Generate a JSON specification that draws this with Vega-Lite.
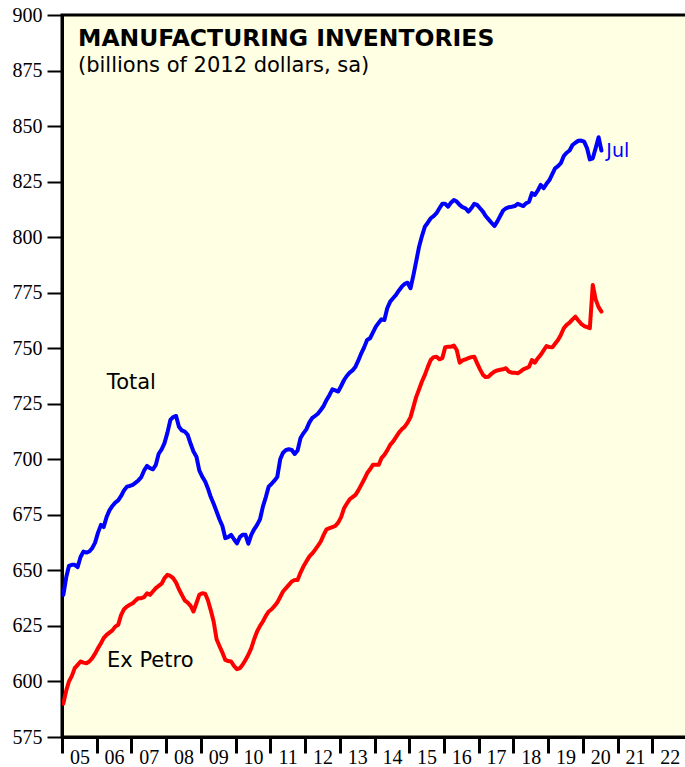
{
  "$schema": "https://vega.github.io/schema/vega-lite/v6.json",
  "width": 625,
  "height": 722,
  "autosize": {"type": "none"},
  "padding": {"left": 62, "top": 15, "right": 0, "bottom": 30},
  "background": "white",
  "config": {
    "view": {"fill": "#FFFFE3", "stroke": "black", "strokeWidth": 3},
    "axis": {"grid": false}
  },
  "title": {
    "text": "MANUFACTURING INVENTORIES",
    "subtitle": "(billions of 2012 dollars, sa)",
    "anchor": "start",
    "frame": "group",
    "orient": "top",
    "offset": 0,
    "dx": 16,
    "dy": 71,
    "font": "DejaVu Sans",
    "fontSize": 23.5,
    "fontWeight": "bold",
    "color": "black",
    "subtitleFont": "DejaVu Sans",
    "subtitleFontSize": 21,
    "subtitleColor": "black",
    "subtitlePadding": 5
  },
  "layer": [
    {
      "data": {
        "values": [
          {"d": "2005-01-15", "Total": 639, "Ex Petro": 590},
          {"d": "2005-02-15", "Total": 647, "Ex Petro": 596},
          {"d": "2005-03-15", "Total": 652, "Ex Petro": 600},
          {"d": "2005-04-15", "Total": 652.5, "Ex Petro": 602.5},
          {"d": "2005-05-15", "Total": 652.5, "Ex Petro": 606},
          {"d": "2005-06-15", "Total": 651.5, "Ex Petro": 607.5},
          {"d": "2005-07-15", "Total": 656, "Ex Petro": 609},
          {"d": "2005-08-15", "Total": 658.5, "Ex Petro": 608.5},
          {"d": "2005-09-15", "Total": 658, "Ex Petro": 608.2},
          {"d": "2005-10-15", "Total": 658.5, "Ex Petro": 609},
          {"d": "2005-11-15", "Total": 660, "Ex Petro": 610.5},
          {"d": "2005-12-15", "Total": 662.5, "Ex Petro": 612.5},
          {"d": "2006-01-15", "Total": 667, "Ex Petro": 615},
          {"d": "2006-02-15", "Total": 670.5, "Ex Petro": 617.2},
          {"d": "2006-03-15", "Total": 669.5, "Ex Petro": 619.5},
          {"d": "2006-04-15", "Total": 674, "Ex Petro": 621},
          {"d": "2006-05-15", "Total": 677, "Ex Petro": 622},
          {"d": "2006-06-15", "Total": 679, "Ex Petro": 623},
          {"d": "2006-07-15", "Total": 680.5, "Ex Petro": 624.7},
          {"d": "2006-08-15", "Total": 681.5, "Ex Petro": 625.5},
          {"d": "2006-09-15", "Total": 683.5, "Ex Petro": 630},
          {"d": "2006-10-15", "Total": 686, "Ex Petro": 632.5},
          {"d": "2006-11-15", "Total": 687.7, "Ex Petro": 633.7},
          {"d": "2006-12-15", "Total": 688, "Ex Petro": 634.5},
          {"d": "2007-01-15", "Total": 688.5, "Ex Petro": 635.2},
          {"d": "2007-02-15", "Total": 689.5, "Ex Petro": 636.5},
          {"d": "2007-03-15", "Total": 690.5, "Ex Petro": 637.5},
          {"d": "2007-04-15", "Total": 692, "Ex Petro": 637.5},
          {"d": "2007-05-15", "Total": 695, "Ex Petro": 638},
          {"d": "2007-06-15", "Total": 697, "Ex Petro": 639.7},
          {"d": "2007-07-15", "Total": 696, "Ex Petro": 639},
          {"d": "2007-08-15", "Total": 695.5, "Ex Petro": 640.5},
          {"d": "2007-09-15", "Total": 697.5, "Ex Petro": 642},
          {"d": "2007-10-15", "Total": 702.5, "Ex Petro": 643},
          {"d": "2007-11-15", "Total": 704.5, "Ex Petro": 644},
          {"d": "2007-12-15", "Total": 707.3, "Ex Petro": 646.5},
          {"d": "2008-01-15", "Total": 712, "Ex Petro": 648},
          {"d": "2008-02-15", "Total": 717.7, "Ex Petro": 647.5},
          {"d": "2008-03-15", "Total": 719, "Ex Petro": 646.5},
          {"d": "2008-04-15", "Total": 719.5, "Ex Petro": 644.5},
          {"d": "2008-05-15", "Total": 714.7, "Ex Petro": 641.5},
          {"d": "2008-06-15", "Total": 713, "Ex Petro": 639},
          {"d": "2008-07-15", "Total": 712.5, "Ex Petro": 636.5},
          {"d": "2008-08-15", "Total": 711, "Ex Petro": 635.5},
          {"d": "2008-09-15", "Total": 707, "Ex Petro": 634},
          {"d": "2008-10-15", "Total": 703.5, "Ex Petro": 631.5},
          {"d": "2008-11-15", "Total": 701.2, "Ex Petro": 635.2},
          {"d": "2008-12-15", "Total": 695, "Ex Petro": 639},
          {"d": "2009-01-15", "Total": 692.2, "Ex Petro": 639.7},
          {"d": "2009-02-15", "Total": 690, "Ex Petro": 639.5},
          {"d": "2009-03-15", "Total": 687, "Ex Petro": 636.7},
          {"d": "2009-04-15", "Total": 683, "Ex Petro": 632},
          {"d": "2009-05-15", "Total": 680, "Ex Petro": 627},
          {"d": "2009-06-15", "Total": 676.5, "Ex Petro": 619},
          {"d": "2009-07-15", "Total": 673, "Ex Petro": 616},
          {"d": "2009-08-15", "Total": 670, "Ex Petro": 613},
          {"d": "2009-09-15", "Total": 664.5, "Ex Petro": 609.7},
          {"d": "2009-10-15", "Total": 665, "Ex Petro": 609.2},
          {"d": "2009-11-15", "Total": 666, "Ex Petro": 609},
          {"d": "2009-12-15", "Total": 664, "Ex Petro": 607},
          {"d": "2010-01-15", "Total": 662.2, "Ex Petro": 605.5},
          {"d": "2010-02-15", "Total": 665, "Ex Petro": 606},
          {"d": "2010-03-15", "Total": 666, "Ex Petro": 607.5},
          {"d": "2010-04-15", "Total": 666, "Ex Petro": 609.7},
          {"d": "2010-05-15", "Total": 662, "Ex Petro": 612},
          {"d": "2010-06-15", "Total": 666, "Ex Petro": 615},
          {"d": "2010-07-15", "Total": 668.5, "Ex Petro": 619},
          {"d": "2010-08-15", "Total": 670.5, "Ex Petro": 622.5},
          {"d": "2010-09-15", "Total": 673, "Ex Petro": 625},
          {"d": "2010-10-15", "Total": 678.7, "Ex Petro": 627},
          {"d": "2010-11-15", "Total": 683, "Ex Petro": 629.5},
          {"d": "2010-12-15", "Total": 687.7, "Ex Petro": 631.5},
          {"d": "2011-01-15", "Total": 689, "Ex Petro": 632.5},
          {"d": "2011-02-15", "Total": 690.5, "Ex Petro": 634},
          {"d": "2011-03-15", "Total": 692, "Ex Petro": 635.5},
          {"d": "2011-04-15", "Total": 700, "Ex Petro": 638},
          {"d": "2011-05-15", "Total": 703, "Ex Petro": 640.5},
          {"d": "2011-06-15", "Total": 704.2, "Ex Petro": 642},
          {"d": "2011-07-15", "Total": 704.5, "Ex Petro": 643.5},
          {"d": "2011-08-15", "Total": 704.2, "Ex Petro": 645},
          {"d": "2011-09-15", "Total": 702.4, "Ex Petro": 645.7},
          {"d": "2011-10-15", "Total": 704, "Ex Petro": 645.7},
          {"d": "2011-11-15", "Total": 709.6, "Ex Petro": 649},
          {"d": "2011-12-15", "Total": 711.7, "Ex Petro": 651.7},
          {"d": "2012-01-15", "Total": 713.5, "Ex Petro": 654},
          {"d": "2012-02-15", "Total": 716.5, "Ex Petro": 656.2},
          {"d": "2012-03-15", "Total": 718.5, "Ex Petro": 657.5},
          {"d": "2012-04-15", "Total": 719.5, "Ex Petro": 659.2},
          {"d": "2012-05-15", "Total": 720.5, "Ex Petro": 661},
          {"d": "2012-06-15", "Total": 722.2, "Ex Petro": 663},
          {"d": "2012-07-15", "Total": 724, "Ex Petro": 666},
          {"d": "2012-08-15", "Total": 726.7, "Ex Petro": 668.5},
          {"d": "2012-09-15", "Total": 729, "Ex Petro": 669},
          {"d": "2012-10-15", "Total": 731.5, "Ex Petro": 669.5},
          {"d": "2012-11-15", "Total": 731, "Ex Petro": 670},
          {"d": "2012-12-15", "Total": 730.5, "Ex Petro": 671.5},
          {"d": "2013-01-15", "Total": 733, "Ex Petro": 674},
          {"d": "2013-02-15", "Total": 735.7, "Ex Petro": 678},
          {"d": "2013-03-15", "Total": 737.5, "Ex Petro": 680},
          {"d": "2013-04-15", "Total": 739, "Ex Petro": 682},
          {"d": "2013-05-15", "Total": 740, "Ex Petro": 683},
          {"d": "2013-06-15", "Total": 741.7, "Ex Petro": 684},
          {"d": "2013-07-15", "Total": 744.5, "Ex Petro": 686},
          {"d": "2013-08-15", "Total": 747.7, "Ex Petro": 688.5},
          {"d": "2013-09-15", "Total": 750.5, "Ex Petro": 691},
          {"d": "2013-10-15", "Total": 753.7, "Ex Petro": 693.7},
          {"d": "2013-11-15", "Total": 754.5, "Ex Petro": 695.5},
          {"d": "2013-12-15", "Total": 757, "Ex Petro": 697.5},
          {"d": "2014-01-15", "Total": 759.7, "Ex Petro": 697.5},
          {"d": "2014-02-15", "Total": 761.5, "Ex Petro": 697.5},
          {"d": "2014-03-15", "Total": 763, "Ex Petro": 700.5},
          {"d": "2014-04-15", "Total": 762.7, "Ex Petro": 702},
          {"d": "2014-05-15", "Total": 768, "Ex Petro": 704},
          {"d": "2014-06-15", "Total": 771, "Ex Petro": 706.5},
          {"d": "2014-07-15", "Total": 772.5, "Ex Petro": 708},
          {"d": "2014-08-15", "Total": 774, "Ex Petro": 710},
          {"d": "2014-09-15", "Total": 776, "Ex Petro": 712},
          {"d": "2014-10-15", "Total": 777.7, "Ex Petro": 713.5},
          {"d": "2014-11-15", "Total": 779, "Ex Petro": 714.7},
          {"d": "2014-12-15", "Total": 779.5, "Ex Petro": 716.5},
          {"d": "2015-01-15", "Total": 777, "Ex Petro": 719},
          {"d": "2015-02-15", "Total": 783, "Ex Petro": 723.7},
          {"d": "2015-03-15", "Total": 789, "Ex Petro": 728},
          {"d": "2015-04-15", "Total": 795.7, "Ex Petro": 731.5},
          {"d": "2015-05-15", "Total": 800.5, "Ex Petro": 735},
          {"d": "2015-06-15", "Total": 804.7, "Ex Petro": 738},
          {"d": "2015-07-15", "Total": 806.5, "Ex Petro": 741.5},
          {"d": "2015-08-15", "Total": 808.5, "Ex Petro": 744.7},
          {"d": "2015-09-15", "Total": 809.5, "Ex Petro": 746},
          {"d": "2015-10-15", "Total": 810.8, "Ex Petro": 746.2},
          {"d": "2015-11-15", "Total": 813, "Ex Petro": 745},
          {"d": "2015-12-15", "Total": 815, "Ex Petro": 745.5},
          {"d": "2016-01-15", "Total": 815, "Ex Petro": 750.5},
          {"d": "2016-02-15", "Total": 813.7, "Ex Petro": 750.7},
          {"d": "2016-03-15", "Total": 815.5, "Ex Petro": 750.7},
          {"d": "2016-04-15", "Total": 816.7, "Ex Petro": 751.2},
          {"d": "2016-05-15", "Total": 816, "Ex Petro": 749.2},
          {"d": "2016-06-15", "Total": 814.5, "Ex Petro": 743.5},
          {"d": "2016-07-15", "Total": 813.5, "Ex Petro": 744.5},
          {"d": "2016-08-15", "Total": 813, "Ex Petro": 745},
          {"d": "2016-09-15", "Total": 811.5, "Ex Petro": 745.5},
          {"d": "2016-10-15", "Total": 813, "Ex Petro": 746},
          {"d": "2016-11-15", "Total": 815, "Ex Petro": 746.2},
          {"d": "2016-12-15", "Total": 814.5, "Ex Petro": 743.3},
          {"d": "2017-01-15", "Total": 813, "Ex Petro": 740.5},
          {"d": "2017-02-15", "Total": 811.5, "Ex Petro": 738},
          {"d": "2017-03-15", "Total": 809.5, "Ex Petro": 737},
          {"d": "2017-04-15", "Total": 808, "Ex Petro": 737.2},
          {"d": "2017-05-15", "Total": 806.5, "Ex Petro": 738.5},
          {"d": "2017-06-15", "Total": 805, "Ex Petro": 739.5},
          {"d": "2017-07-15", "Total": 807, "Ex Petro": 740},
          {"d": "2017-08-15", "Total": 809.5, "Ex Petro": 740.3},
          {"d": "2017-09-15", "Total": 812, "Ex Petro": 740.5},
          {"d": "2017-10-15", "Total": 813, "Ex Petro": 741},
          {"d": "2017-11-15", "Total": 813.5, "Ex Petro": 739.5},
          {"d": "2017-12-15", "Total": 813.7, "Ex Petro": 739},
          {"d": "2018-01-15", "Total": 814, "Ex Petro": 739},
          {"d": "2018-02-15", "Total": 815, "Ex Petro": 738.7},
          {"d": "2018-03-15", "Total": 814.5, "Ex Petro": 739.5},
          {"d": "2018-04-15", "Total": 814, "Ex Petro": 740.5},
          {"d": "2018-05-15", "Total": 815.3, "Ex Petro": 741},
          {"d": "2018-06-15", "Total": 816, "Ex Petro": 741.7},
          {"d": "2018-07-15", "Total": 819.8, "Ex Petro": 744.7},
          {"d": "2018-08-15", "Total": 819, "Ex Petro": 743.5},
          {"d": "2018-09-15", "Total": 821, "Ex Petro": 745.5},
          {"d": "2018-10-15", "Total": 823.5, "Ex Petro": 747},
          {"d": "2018-11-15", "Total": 822, "Ex Petro": 749},
          {"d": "2018-12-15", "Total": 824, "Ex Petro": 751},
          {"d": "2019-01-15", "Total": 825.7, "Ex Petro": 750.5},
          {"d": "2019-02-15", "Total": 828.5, "Ex Petro": 750.4},
          {"d": "2019-03-15", "Total": 831, "Ex Petro": 752},
          {"d": "2019-04-15", "Total": 832, "Ex Petro": 753.7},
          {"d": "2019-05-15", "Total": 833.3, "Ex Petro": 756},
          {"d": "2019-06-15", "Total": 836.5, "Ex Petro": 759},
          {"d": "2019-07-15", "Total": 838, "Ex Petro": 760.5},
          {"d": "2019-08-15", "Total": 839, "Ex Petro": 761.5},
          {"d": "2019-09-15", "Total": 841.5, "Ex Petro": 763},
          {"d": "2019-10-15", "Total": 842.5, "Ex Petro": 764.2},
          {"d": "2019-11-15", "Total": 843.4, "Ex Petro": 762.5},
          {"d": "2019-12-15", "Total": 843.5, "Ex Petro": 761},
          {"d": "2020-01-15", "Total": 843, "Ex Petro": 760},
          {"d": "2020-02-15", "Total": 840, "Ex Petro": 759.5},
          {"d": "2020-03-15", "Total": 835, "Ex Petro": 759},
          {"d": "2020-04-15", "Total": 835.5, "Ex Petro": 778.5},
          {"d": "2020-05-15", "Total": 840, "Ex Petro": 772},
          {"d": "2020-06-15", "Total": 845, "Ex Petro": 768.5},
          {"d": "2020-07-15", "Total": 839, "Ex Petro": 766.5}
        ]
      },
      "transform": [{"fold": ["Total", "Ex Petro"], "as": ["series", "value"]}],
      "mark": {"type": "line", "strokeWidth": 4, "strokeJoin": "round", "strokeCap": "round", "clip": true},
      "encoding": {
        "x": {
          "field": "d",
          "type": "temporal",
          "scale": {
            "type": "utc",
            "domain": [
              {"year": 2005, "month": 1, "date": 1, "utc": true},
              {"year": 2023, "month": 1, "date": 1, "utc": true}
            ]
          },
          "axis": {
            "title": null,
            "tickCount": 40,
            "values": [
              {"year": 2005, "utc": true}, {"year": 2006, "utc": true}, {"year": 2007, "utc": true},
              {"year": 2008, "utc": true}, {"year": 2009, "utc": true}, {"year": 2010, "utc": true},
              {"year": 2011, "utc": true}, {"year": 2012, "utc": true}, {"year": 2013, "utc": true},
              {"year": 2014, "utc": true}, {"year": 2015, "utc": true}, {"year": 2016, "utc": true},
              {"year": 2017, "utc": true}, {"year": 2018, "utc": true}, {"year": 2019, "utc": true},
              {"year": 2020, "utc": true}, {"year": 2021, "utc": true}, {"year": 2022, "utc": true}
            ],
            "labelExpr": "utcFormat(datum.value, '%y')",
            "labelOffset": 17.4,
            "labelAlign": "center",
            "labelBaseline": "top",
            "labelPadding": -6,
            "labelFont": "Liberation Serif",
            "labelFontSize": 20,
            "labelColor": "black",
            "labelOverlap": false,
            "labelFlush": false,
            "labelBound": false,
            "tickSize": 16,
            "tickWidth": 3,
            "tickColor": "black",
            "domainColor": "black",
            "domainWidth": 3
          }
        },
        "y": {
          "field": "value",
          "type": "quantitative",
          "scale": {"domain": [575, 900], "nice": false, "zero": false},
          "axis": {
            "title": null,
            "tickCount": 40,
            "values": [575, 600, 625, 650, 675, 700, 725, 750, 775, 800, 825, 850, 875, 900],
            "labelFont": "Liberation Serif",
            "labelFontSize": 20,
            "labelColor": "black",
            "labelPadding": 5,
            "labelFlush": false,
            "labelOverlap": false,
            "tickSize": 15,
            "tickWidth": 2,
            "tickColor": "black",
            "domainColor": "black",
            "domainWidth": 3
          }
        },
        "color": {
          "field": "series",
          "type": "nominal",
          "scale": {"domain": ["Total", "Ex Petro"], "range": ["#0000FF", "#FF0000"]},
          "legend": null
        }
      }
    },
    {
      "data": {
        "values": [
          {"label": "Total", "d": "2006-04-18", "value": 731.7},
          {"label": "Ex Petro", "d": "2006-04-20", "value": 606.4}
        ]
      },
      "mark": {
        "type": "text",
        "align": "left",
        "baseline": "alphabetic",
        "font": "DejaVu Sans",
        "fontSize": 21,
        "color": "black"
      },
      "encoding": {
        "x": {"field": "d", "type": "temporal"},
        "y": {"field": "value", "type": "quantitative"},
        "text": {"field": "label"}
      }
    },
    {
      "data": {
        "values": [
          {"label": "Jul", "d": "2020-09-04", "value": 836}
        ]
      },
      "mark": {
        "type": "text",
        "align": "left",
        "baseline": "alphabetic",
        "font": "DejaVu Sans",
        "fontSize": 19,
        "color": "#0000FF"
      },
      "encoding": {
        "x": {"field": "d", "type": "temporal"},
        "y": {"field": "value", "type": "quantitative"},
        "text": {"field": "label"}
      }
    }
  ]
}
